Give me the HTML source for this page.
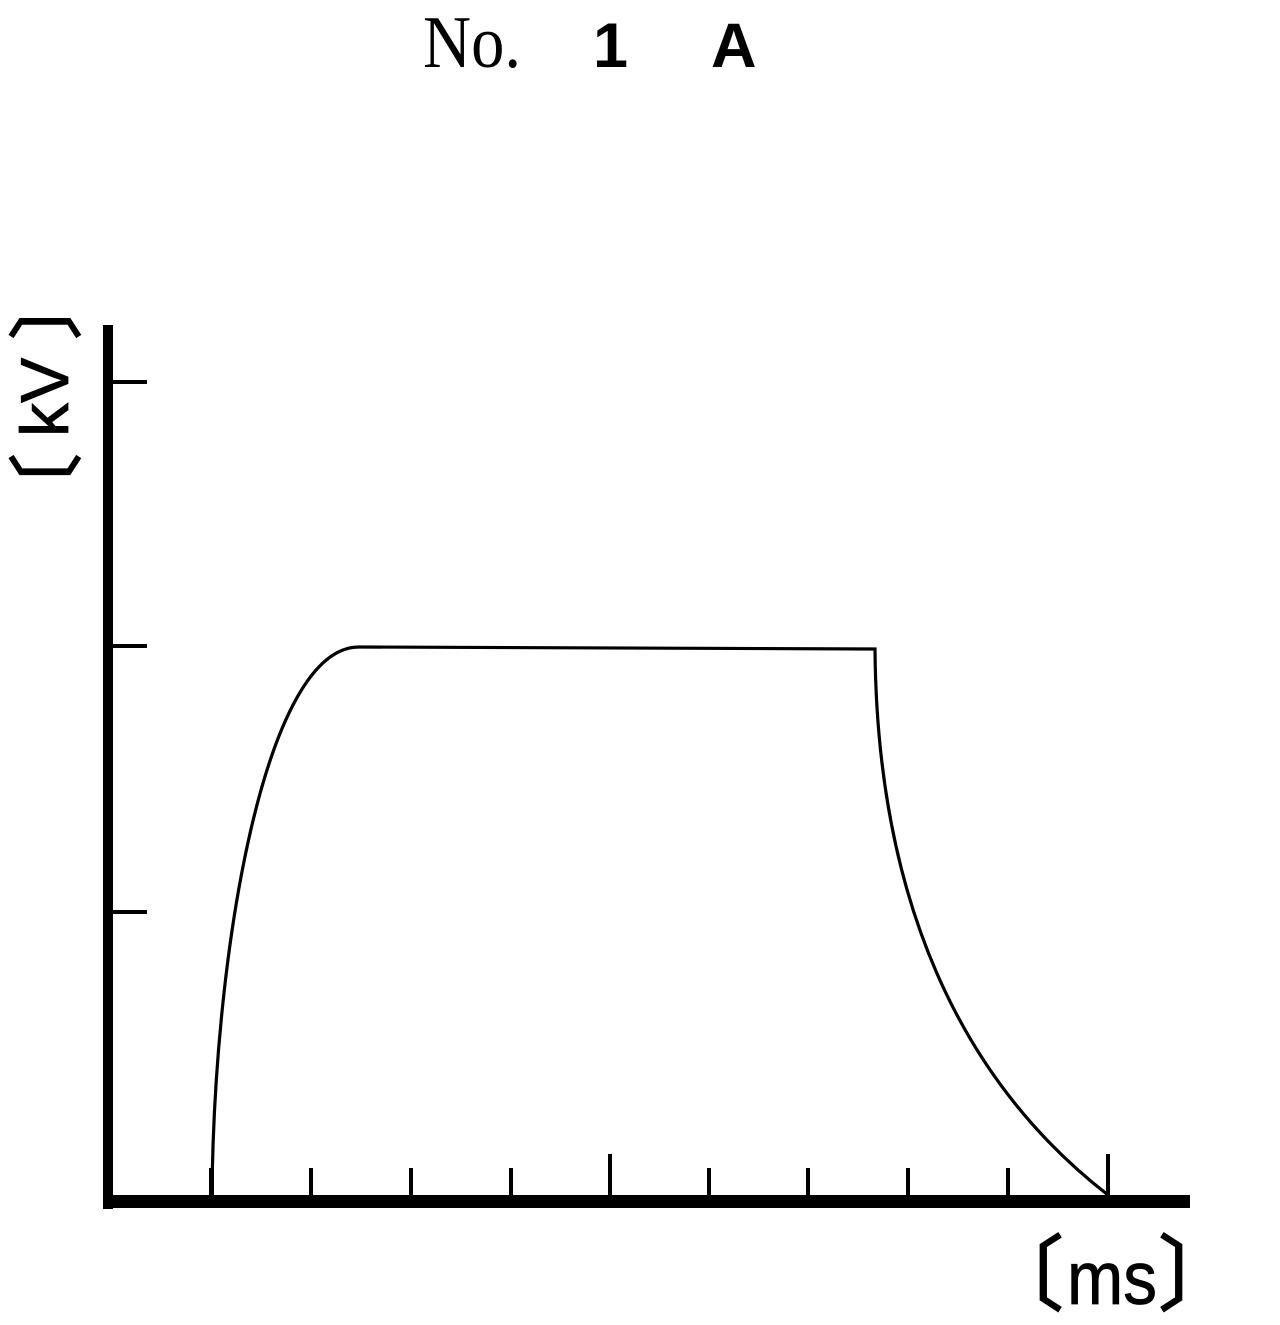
<!DOCTYPE html>
<html>
<head>
<meta charset="utf-8">
<style>
  html, body { margin: 0; padding: 0; background: #ffffff; }
  body { width: 1280px; height: 1325px; overflow: hidden; }
  svg { display: block; }
</style>
</head>
<body>
<svg width="1280" height="1325" viewBox="0 0 1280 1325" xmlns="http://www.w3.org/2000/svg">
  <rect x="0" y="0" width="1280" height="1325" fill="#ffffff"/>

  <!-- Title -->
  <text x="423" y="67" font-family="'Liberation Serif', serif" font-size="74" textLength="98" lengthAdjust="spacingAndGlyphs" fill="#000">No.</text>
  <text x="593" y="67" font-family="'Liberation Sans', sans-serif" font-weight="bold" font-size="63" fill="#000">1</text>
  <text x="711" y="67" font-family="'Liberation Sans', sans-serif" font-weight="bold" font-size="63" fill="#000">A</text>

  <!-- Y axis label (rotated) -->
  <g transform="translate(68,0) rotate(-90)">
    <text x="-527" y="5" font-family="'Liberation Sans', 'Noto Sans CJK JP', sans-serif" font-size="74" fill="#000" stroke="#000" stroke-width="1.5">〔</text>
    <text x="-437" y="0" font-family="'Liberation Sans', sans-serif" font-size="68" fill="#000" stroke="#000" stroke-width="0.8">kV</text>
    <text x="-340" y="5" font-family="'Liberation Sans', 'Noto Sans CJK JP', sans-serif" font-size="74" fill="#000" stroke="#000" stroke-width="1.5">〕</text>
  </g>

  <!-- X axis label -->
  <text x="982" y="1303" font-family="'Liberation Sans', 'Noto Sans CJK JP', sans-serif" font-size="82" fill="#000" stroke="#000" stroke-width="1.5">〔</text>
  <text x="1067" y="1304" font-family="'Liberation Sans', sans-serif" font-size="75" textLength="90" lengthAdjust="spacingAndGlyphs" fill="#000" stroke="#000" stroke-width="0.8">ms</text>
  <text x="1158" y="1303" font-family="'Liberation Sans', 'Noto Sans CJK JP', sans-serif" font-size="82" fill="#000" stroke="#000" stroke-width="1.5">〕</text>

  <!-- Axes -->
  <rect x="103" y="325" width="10" height="884" fill="#000"/>
  <rect x="103" y="1195" width="1087" height="13" fill="#000"/>

  <!-- Y ticks -->
  <rect x="113" y="380" width="34" height="4" fill="#000"/>
  <rect x="113" y="644" width="34" height="4" fill="#000"/>
  <rect x="113" y="910" width="34" height="4" fill="#000"/>

  <!-- X ticks -->
  <g fill="#000">
    <rect x="209" y="1168" width="5" height="28"/>
    <rect x="309" y="1168" width="4" height="28"/>
    <rect x="409" y="1168" width="4" height="28"/>
    <rect x="509" y="1168" width="4" height="28"/>
    <rect x="608" y="1154" width="4" height="42"/>
    <rect x="707" y="1168" width="4" height="28"/>
    <rect x="806" y="1168" width="4" height="28"/>
    <rect x="906" y="1168" width="4" height="28"/>
    <rect x="1006" y="1168" width="4" height="28"/>
    <rect x="1106" y="1154" width="4" height="42"/>
  </g>

  <!-- Waveform -->
  <path d="M 212,1195 C 214,950 265,647 359,647 L 875,649 C 877,900 960,1080 1108,1195"
        fill="none" stroke="#000" stroke-width="3.2" stroke-linejoin="miter"/>
</svg>
</body>
</html>
